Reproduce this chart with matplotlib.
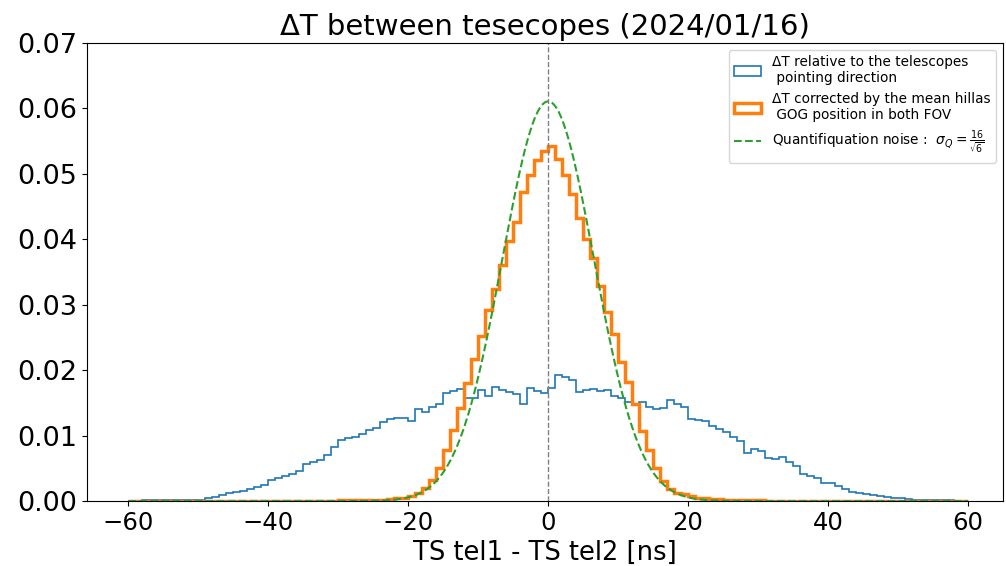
import numpy as np
import matplotlib
matplotlib.use("Agg")
import matplotlib.pyplot as plt

# 1 ns bins from -60 to 60 ns
bin_edges = np.arange(-60, 61, 1)

# density of TS tel1 - TS tel2 using the telescopes pointing direction
dt_pointing = [
    0.0, 0.0, 0.0001, 0.0001, 0.0001, 0.0001, 0.0002, 0.0002, 0.0002, 0.0002,
    0.0002, 0.0004, 0.0006, 0.0009, 0.0012, 0.0014, 0.0016, 0.0019, 0.0022, 0.0025,
    0.0032, 0.0035, 0.0038, 0.0042, 0.0046, 0.0057, 0.0059, 0.0063, 0.0070, 0.0083,
    0.0093, 0.0096, 0.0098, 0.0103, 0.0109, 0.0112, 0.0121, 0.0125, 0.0127, 0.0127,
    0.0123, 0.0141, 0.0136, 0.0144, 0.0149, 0.0165, 0.0168, 0.0171, 0.0157, 0.0157,
    0.0169, 0.0161, 0.0174, 0.0169, 0.0166, 0.0164, 0.0149, 0.0172, 0.0168, 0.0165,
    0.0172, 0.0193, 0.0189, 0.0185, 0.0167, 0.0169, 0.0171, 0.0168, 0.0170, 0.0160,
    0.0157, 0.0152, 0.0146, 0.0152, 0.0144, 0.0140, 0.0142, 0.0154, 0.0148, 0.0144,
    0.0126, 0.0124, 0.0122, 0.0114, 0.0110, 0.0106, 0.0098, 0.0092, 0.0074, 0.0080,
    0.0076, 0.0065, 0.0064, 0.0068, 0.0059, 0.0054, 0.0042, 0.0039, 0.0035, 0.0027,
    0.0027, 0.0023, 0.0018, 0.0014, 0.0013, 0.0011, 0.0009, 0.0007, 0.0006, 0.0004,
    0.0004, 0.0003, 0.0002, 0.0002, 0.0001, 0.0001, 0.0001, 0.0001, 0.0, 0.0,
]

# density after correction with the mean hillas COG position
dt_corrected = [
    0.0, 0.0, 0.0, 0.0, 0.0, 0.0, 0.0, 0.0, 0.0, 0.0,
    0.0, 0.0, 0.0, 0.0, 0.0, 0.0, 0.0, 0.0, 0.0, 0.0,
    0.0, 0.0, 0.0, 0.0, 0.0, 0.0, 0.0, 0.0, 0.0, 0.0,
    0.0001, 0.0001, 0.0001, 0.0001, 0.0001, 0.0002, 0.0002, 0.0003, 0.0004, 0.0005,
    0.0008, 0.0012, 0.0020, 0.0032, 0.0050, 0.0078, 0.0109, 0.0142, 0.0180, 0.0217,
    0.0252, 0.0292, 0.0324, 0.0360, 0.0397, 0.0426, 0.0472, 0.0498, 0.0521, 0.0535,
    0.0543, 0.0523, 0.0499, 0.0470, 0.0432, 0.0400, 0.0371, 0.0328, 0.0289, 0.0255,
    0.0213, 0.0182, 0.0148, 0.0107, 0.0078, 0.0050, 0.0030, 0.0019, 0.0013, 0.0010,
    0.0007, 0.0005, 0.0004, 0.0003, 0.0003, 0.0002, 0.0002, 0.0001, 0.0001, 0.0001,
    0.0001, 0.0, 0.0, 0.0, 0.0, 0.0, 0.0, 0.0, 0.0, 0.0,
    0.0, 0.0, 0.0, 0.0, 0.0, 0.0, 0.0, 0.0, 0.0, 0.0,
    0.0, 0.0, 0.0, 0.0, 0.0, 0.0, 0.0, 0.0, 0.0, 0.0,
]

# quantification noise of the time sampling
sigma_q = 16 / np.sqrt(6)

centers = 0.5 * (bin_edges[:-1] + bin_edges[1:])
x = np.linspace(-60, 60, 1000)
gauss = np.exp(-0.5 * (x / sigma_q) ** 2) / (sigma_q * np.sqrt(2 * np.pi))

fig = plt.figure(figsize=(10.06, 5.66), dpi=100)
ax = fig.add_axes([0.0865, 0.1148, 0.9105, 0.8092])

ax.hist(centers, bins=bin_edges, weights=dt_pointing, histtype='step', lw=1.2,
        color='C0', label='ΔT relative to the telescopes\n pointing direction')
ax.hist(centers, bins=bin_edges, weights=dt_corrected, histtype='step', lw=2.5,
        color='C1', label='ΔT corrected by the mean hillas\n GOG position in both FOV')
ax.plot(x, gauss, '--', color='C2', lw=1.5,
        label=r'Quantifiquation noise :  $\sigma_Q = \frac{16}{\sqrt{6}}$')
ax.axvline(0, color='grey', ls='--', lw=1)

ax.set_xlim(-65.9, 65.0)
ax.set_ylim(0, 0.07)
ax.set_title('ΔT between tesecopes (2024/01/16)', fontsize=21)
ax.set_xlabel('TS tel1 - TS tel2 [ns]', fontsize=18.5)
ax.tick_params(axis='x', labelsize=17.5)
ax.tick_params(axis='y', labelsize=19.5)
ax.legend(loc='upper right', fontsize=9.8)

fig.savefig('out.png', dpi=100)
